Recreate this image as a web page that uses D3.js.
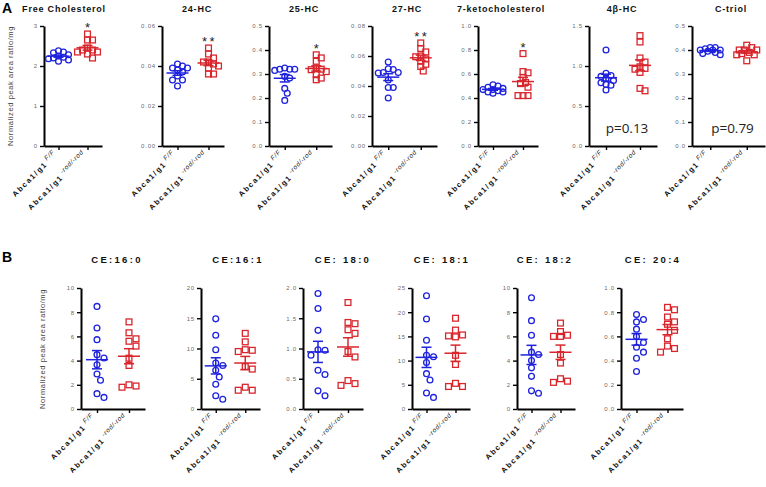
<!DOCTYPE html>
<html><head><meta charset="utf-8">
<script src="https://cdn.jsdelivr.net/npm/d3@7"></script>
<style>body{margin:0;background:#fff;} svg{display:block;font-family:"Liberation Sans",Arial,sans-serif;}</style>
</head><body><svg id="c" width="766" height="487"></svg>
<script>
// ---------- DATA ----------
const groups = ["F/F", "-rod/-rod"];

const topTitles = ["Free Cholesterol", "24-HC", "25-HC", "27-HC", "7-ketocholesterol", "4\u03b2-HC", "C-triol"];
const topTicks = [[0,1,2,3],[0,0.02,0.04,0.06],[0,0.1,0.2,0.3,0.4,0.5],[0,0.02,0.04,0.06,0.08],[0,0.2,0.4,0.6,0.8,1.0],[0,0.5,1.0,1.5],[0,0.1,0.2,0.3,0.4,0.5]];
const topTickLabels = [["0","1","2","3"],["0.00","0.02","0.04","0.06"],["0.0","0.1","0.2","0.3","0.4","0.5"],["0.00","0.02","0.04","0.06","0.08"],["0.0","0.2","0.4","0.6","0.8","1.0"],["0.0","0.5","1.0","1.5"],["0.0","0.1","0.2","0.3","0.4","0.5"]];
const topFF = [
  [2.38,2.33,2.35,2.25,2.20,2.15,2.12,2.18,2.22,2.28],
  [0.040,0.039,0.039,0.041,0.038,0.037,0.035,0.033,0.033,0.030],
  [0.32,0.32,0.32,0.325,0.315,0.29,0.283,0.24,0.22,0.19],
  [0.056,0.0515,0.051,0.049,0.049,0.0487,0.044,0.039,0.039,0.032],
  [0.51,0.50,0.49,0.48,0.47,0.47,0.46,0.45,0.45,0.44],
  [1.20,0.91,0.88,0.87,0.84,0.82,0.79,0.77,0.76,0.70],
  [0.41,0.405,0.40,0.40,0.395,0.39,0.385,0.38,0.41,0.40]
];
const topRod = [
  [2.80,2.65,2.65,2.45,2.40,2.40,2.35,2.35,2.30,2.20],
  [0.049,0.046,0.044,0.042,0.042,0.041,0.040,0.039,0.036,0.036],
  [0.38,0.367,0.353,0.325,0.32,0.318,0.31,0.297,0.283,0.276],
  [0.0687,0.065,0.0627,0.060,0.0595,0.058,0.0565,0.0545,0.053,0.050],
  [0.77,0.62,0.61,0.57,0.53,0.52,0.49,0.42,0.42,0.42],
  [1.38,1.30,1.10,1.05,0.99,0.97,0.96,0.92,0.72,0.69],
  [0.42,0.41,0.40,0.40,0.39,0.385,0.38,0.38,0.355,0.40]
];
const topSig = ["*", "**", "*", "**", "*", "", ""];
const topP = ["", "", "", "", "", "p=0.13", "p=0.79"];

const botTitles = ["CE:16:0", "CE:16:1", "CE: 18:0", "CE: 18:1", "CE: 18:2", "CE: 20:4"];
const botTicks = [[0,2,4,6,8,10],[0,5,10,15,20],[0,0.5,1.0,1.5,2.0],[0,5,10,15,20,25],[0,2,4,6,8,10],[0,0.2,0.4,0.6,0.8,1.0]];
const botTickLabels = [["0","2","4","6","8","10"],["0","5","10","15","20"],["0.0","0.5","1.0","1.5","2.0"],["0","5","10","15","20","25"],["0","2","4","6","8","10"],["0.0","0.2","0.4","0.6","0.8","1.0"]];
const botFF = [
  [8.48,6.69,5.73,4.49,4.21,3.66,2.89,2.37,1.27,0.96],
  [14.9,12.2,9.8,7.6,7.2,6.4,5.3,4.1,2.2,1.6],
  [1.91,1.66,1.30,0.98,0.97,0.89,0.64,0.57,0.30,0.22],
  [23.4,18.6,14.2,11.1,10.8,9.6,7.3,6.0,3.3,2.4],
  [9.2,7.3,6.1,4.7,4.5,4.0,3.4,2.7,1.5,1.3],
  [0.78,0.74,0.72,0.66,0.60,0.55,0.51,0.47,0.42,0.31]
];
const botRod = [
  [7.2,6.3,5.8,5.6,5.2,4.2,3.6,2.0,1.9,1.8],
  [12.5,11.1,9.8,9.7,9.5,7.0,6.6,3.6,3.1,3.1],
  [1.76,1.43,1.41,1.31,1.25,0.95,0.86,0.47,0.42,0.39],
  [18.75,16.3,15.3,15.1,14.9,11.1,9.2,5.3,4.65,4.65],
  [7.1,6.4,6.1,6.0,6.0,4.5,3.8,2.5,2.2,2.3],
  [0.84,0.82,0.76,0.72,0.70,0.65,0.58,0.52,0.50,0.47]
];
const yLabel = "Normalized peak area ratio/mg";

// ---------- LAYOUT ----------
const topLayout = { y0: 146, y1: 26, axes: [[44,102],[162,224],[269,332],[372,437],[478,538],[589,657],[692,765]],
  titleX: [64,197,304,407,501,622,731] };
const botLayout = { y0: 409, y1: 288, axes: [[81,145],[201,260],[303,363],[412,470],[517,575],[621,683]],
  titleX: [117,238,343,442,545,653] };

const BLUE = "#1e22dc", RED = "#d8262c";
const svg = d3.select("#c");

// dodge points horizontally (scatter-dot style), limited to +-maxOff around the group centre
function swarm(vals, y, cx, diam, maxOff) {
  const order = vals.map((v,i)=>i).sort((a,b)=>vals[b]-vals[a]);
  const placed = [], xs = new Array(vals.length), step = diam/2;
  const cands = [0];
  for (let m = 1; m*step <= maxOff + 0.01; m++) { cands.push(m*step, -m*step); }
  for (const i of order) {
    const yy = y(vals[i]);
    let best = null, bestD = -1;
    for (const off of cands) {
      const x = cx + off;
      const dmin = placed.length ? d3.min(placed, p => Math.hypot(p.x-x, p.y-yy)) : Infinity;
      if (dmin >= diam) { best = x; break; }
      if (dmin > bestD) { bestD = dmin; best = x; }
    }
    placed.push({x: best, y: yy}); xs[i] = best;
  }
  return xs;
}

function panel(opt) {
  const {x0, x1, y0, y1, ticks, labels, ff, rod, title, titleX, titleY, titleStyle, sig, p, diam, maxOff} = opt;
  const g = svg.append("g");
  const y = d3.scaleLinear().domain([0, ticks[ticks.length-1]]).range([y0, y1]);
  const x = d3.scalePoint().domain(groups).range([x0, x1]).padding(0.5);

  const ya = g.append("g").attr("transform", `translate(${x0},0)`)
    .call(d3.axisLeft(y).tickValues(ticks).tickFormat((d,i)=>labels[i]).tickSize(4).tickSizeOuter(0).tickPadding(2));
  ya.select(".domain").attr("stroke","#000").attr("stroke-width",2);
  ya.selectAll(".tick line").attr("stroke","#000").attr("stroke-width",1.4);
  ya.selectAll(".tick text").attr("fill","#6a6a6a").attr("font-size",6).attr("letter-spacing",0.8)
    .attr("font-family","Liberation Sans, Arial, sans-serif");
  const xa = g.append("g").attr("transform", `translate(0,${y0})`)
    .call(d3.axisBottom(x).tickFormat("").tickSize(4).tickSizeOuter(0));
  xa.select(".domain").attr("stroke","#000").attr("stroke-width",2);
  xa.selectAll(".tick line").attr("stroke","#000").attr("stroke-width",1.4);

  groups.forEach(gr => {
    const t = g.append("text").attr("text-anchor","end")
      .attr("transform", `translate(${x(gr)-1},${y0+9}) rotate(-45)`)
      .attr("font-size", 7.5).attr("fill","#111");
    t.append("tspan").attr("font-weight","bold").attr("letter-spacing",1.6).text("Abca1/g1");
    t.append("tspan").attr("font-size",6.5).attr("font-style","italic").attr("dy",-3.5).attr("dx",2).attr("letter-spacing",0.6).text(gr);
  });

  [[ff, BLUE, "circle"], [rod, RED, "square"]].forEach(([vals, col, shape], gi) => {
    const cx = x(groups[gi]);
    const xs = swarm(vals, y, cx, diam, maxOff);
    const r = 2.9;
    if (shape === "circle") {
      g.selectAll(null).data(vals).enter().append("circle")
        .attr("cx",(d,i)=>xs[i]).attr("cy",d=>y(d)).attr("r",r)
        .attr("fill","none").attr("stroke",col).attr("stroke-width",1.3);
    } else {
      g.selectAll(null).data(vals).enter().append("rect")
        .attr("x",(d,i)=>xs[i]-r).attr("y",d=>y(d)-r).attr("width",2*r).attr("height",2*r)
        .attr("fill","none").attr("stroke",col).attr("stroke-width",1.3);
    }
    const m = d3.mean(vals), se = d3.deviation(vals)/Math.sqrt(vals.length);
    const lg = g.append("g").attr("stroke", col).attr("stroke-width", 1.5);
    lg.append("line").attr("x1",cx-11).attr("x2",cx+11).attr("y1",y(m)).attr("y2",y(m));
    lg.append("line").attr("x1",cx).attr("x2",cx).attr("y1",y(m-se)).attr("y2",y(m+se));
    lg.append("line").attr("x1",cx-5).attr("x2",cx+5).attr("y1",y(m-se)).attr("y2",y(m-se));
    lg.append("line").attr("x1",cx-5).attr("x2",cx+5).attr("y1",y(m+se)).attr("y2",y(m+se));
  });

  if (sig) {
    g.append("text").attr("x", x(groups[1]) + (sig.length>1?1:0)).attr("y", y(d3.max(rod)) - 2)
      .attr("text-anchor","middle").attr("font-size",13).attr("letter-spacing", sig.length>1?2.5:0)
      .attr("fill","#222").text(sig);
  }
  if (p) {
    g.append("text").attr("x", (x0+x1)/2 + 4).attr("y", y0 - 13).attr("text-anchor","middle")
      .attr("font-size",13.5).attr("fill","#222").attr("font-family","Open Sans, sans-serif").text(p);
  }
  g.append("text").attr("x", titleX).attr("y", titleY).attr("text-anchor","middle")
    .attr("font-weight","bold").attr("font-size", titleStyle.size).attr("letter-spacing", titleStyle.ls)
    .attr("fill","#111").text(title);
}

topTitles.forEach((t, i) => panel({
  x0: topLayout.axes[i][0], x1: topLayout.axes[i][1], y0: topLayout.y0, y1: topLayout.y1,
  ticks: topTicks[i], labels: topTickLabels[i], ff: topFF[i], rod: topRod[i],
  title: t, titleX: topLayout.titleX[i], titleY: 12, titleStyle: {size: 9, ls: 0.8},
  sig: topSig[i], p: topP[i], diam: 5, maxOff: 10
}));
botTitles.forEach((t, i) => panel({
  x0: botLayout.axes[i][0], x1: botLayout.axes[i][1], y0: botLayout.y0, y1: botLayout.y1,
  ticks: botTicks[i], labels: botTickLabels[i], ff: botFF[i], rod: botRod[i],
  title: t, titleX: botLayout.titleX[i], titleY: 263, titleStyle: {size: 9.5, ls: 2.3},
  sig: "", p: "", diam: 7, maxOff: 10
}));

svg.append("text").attr("x",2).attr("y",13).attr("font-size",14).attr("font-weight","bold").text("A");
svg.append("text").attr("x",2).attr("y",262).attr("font-size",14).attr("font-weight","bold").text("B");

[[10, 86], [42, 349]].forEach(([xx, yy]) => {
  svg.append("text").attr("transform", `translate(${xx},${yy}) rotate(-90)`).attr("text-anchor","middle")
    .attr("dy","0.35em").attr("font-size",7.5).attr("letter-spacing",0.6).attr("fill","#444").text(yLabel);
});
</script>
</body></html>
